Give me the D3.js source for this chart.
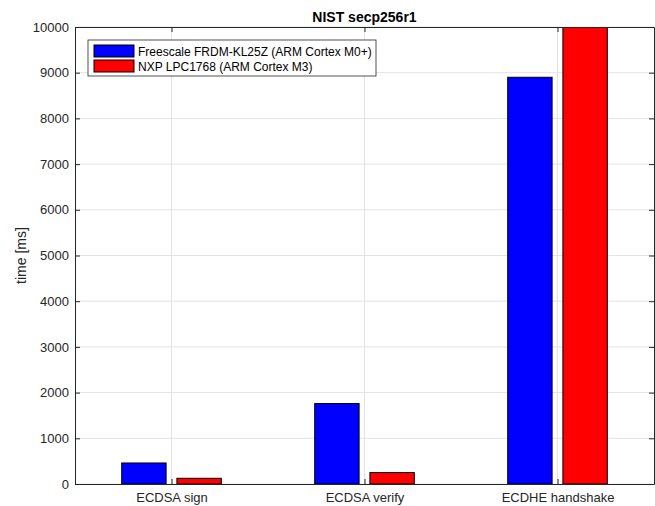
<!DOCTYPE html>
<html>
<head>
<meta charset="utf-8">
<script src="https://cdn.jsdelivr.net/npm/d3@7"></script>
<style>
  body { margin: 0; background: #fff; }
  text { font-family: "Liberation Sans", Arial, sans-serif; fill: #262626; }
</style>
</head>
<body>
<div id="chart"></div>
<script>
var categories = ['ECDSA sign', 'ECDSA verify', 'ECDHE handshake'];
var seriesNames = ['Freescale FRDM-KL25Z (ARM Cortex M0+)', 'NXP LPC1768 (ARM Cortex M3)'];
var kl25z = [460, 1760, 8900];
var lpc1768 = [125, 250, 10000];
var yTicks = [0, 1000, 2000, 3000, 4000, 5000, 6000, 7000, 8000, 9000, 10000];
var colors = ['#0000ff', '#ff0000'];

var margin = {left: 75, top: 27, right: 1, bottom: 22};
var W = 655, H = 506;
var w = W - margin.left - margin.right;
var h = H - margin.top - margin.bottom;

var svg = d3.select('#chart')
  .append('svg')
  .attr('width', W)
  .attr('height', H);

var chart = svg.append('g')
  .attr('transform', 'translate(' + margin.left + ',' + margin.top + ')');

var x = d3.scaleLinear().domain([0.5, 3.5]).range([0, w]);
var y = d3.scaleLinear().domain([0, 10000]).range([h, 0]);

svg.append('defs').append('clipPath').attr('id', 'clip')
  .append('rect').attr('width', w).attr('height', h);

// grid
chart.selectAll('line.hgrid')
  .data(yTicks)
  .enter()
    .append('line')
    .attr('x1', 0).attr('x2', w)
    .attr('y1', function(d){return y(d);})
    .attr('y2', function(d){return y(d);})
    .attr('stroke', '#e3e3e3');
chart.selectAll('line.vgrid')
  .data(categories)
  .enter()
    .append('line')
    .attr('x1', function(d,i){return x(i+1);})
    .attr('x2', function(d,i){return x(i+1);})
    .attr('y1', 0).attr('y2', h)
    .attr('stroke', '#e3e3e3');

// bars
var series = [kl25z, lpc1768];
var offsets = [-0.143, 0.143];
var barW = x(1.23) - x(1);
var bars = chart.append('g').attr('clip-path', 'url(#clip)');
series.forEach(function(vals, s){
  bars.selectAll('rect.s' + s)
    .data(vals)
    .enter()
      .append('rect')
      .attr('x', function(d,i){return x(i+1+offsets[s]) - barW/2;})
      .attr('y', function(d){return y(d);})
      .attr('width', barW)
      .attr('height', function(d){return h - y(d);})
      .attr('fill', colors[s])
      .attr('stroke', '#000')
      .attr('stroke-width', 1);
});

// axes box
var axisColor = '#262626';
var yl = d3.axisLeft(y).tickValues(yTicks).tickSizeInner(-5).tickSizeOuter(0).tickPadding(6)
  .tickFormat(d3.format('d'));
var yr = d3.axisRight(y).tickValues(yTicks).tickSizeInner(-5).tickSizeOuter(0).tickFormat('');
var xb = d3.axisBottom(x).tickValues([1, 2, 3]).tickSizeInner(-5).tickSizeOuter(0).tickPadding(9)
  .tickFormat(function(d){return categories[d-1];});
var xt = d3.axisTop(x).tickValues([1, 2, 3]).tickSizeInner(-5).tickSizeOuter(0).tickFormat('');

chart.append('g').call(yl);
chart.append('g').attr('transform', 'translate(' + w + ',0)').call(yr);
chart.append('g').attr('transform', 'translate(0,' + h + ')').call(xb);
chart.append('g').call(xt);
chart.selectAll('.domain, .tick line').attr('stroke', axisColor);
chart.selectAll('.tick text').attr('font-size', 13).attr('fill', axisColor)
  .style('font-family', '"Liberation Sans", Arial, sans-serif');

// y label
svg.append('text')
  .attr('transform', 'translate(26,' + (margin.top + h/2) + ') rotate(-90)')
  .attr('text-anchor', 'middle')
  .attr('font-size', 14)
  .text('time [ms]');

// title
svg.append('text')
  .attr('x', margin.left + w/2)
  .attr('y', 22)
  .attr('text-anchor', 'middle')
  .attr('font-size', 14)
  .attr('font-weight', 'bold')
  .style('fill', '#000')
  .text('NIST secp256r1');

// legend
var legend = chart.append('g').attr('transform', 'translate(13,13)');
legend.append('rect')
  .attr('width', 288).attr('height', 36)
  .attr('fill', '#fff').attr('stroke', axisColor).attr('stroke-width', 0.8);
seriesNames.forEach(function(name, i){
  legend.append('rect')
    .attr('x', 6).attr('y', 5 + i*15)
    .attr('width', 40).attr('height', 12)
    .attr('fill', colors[i]).attr('stroke', '#000');
  legend.append('text')
    .attr('x', 50).attr('y', 15.5 + i*15)
    .attr('font-size', 12)
    .style('fill', '#000')
    .text(name);
});
</script>
</body>
</html>
